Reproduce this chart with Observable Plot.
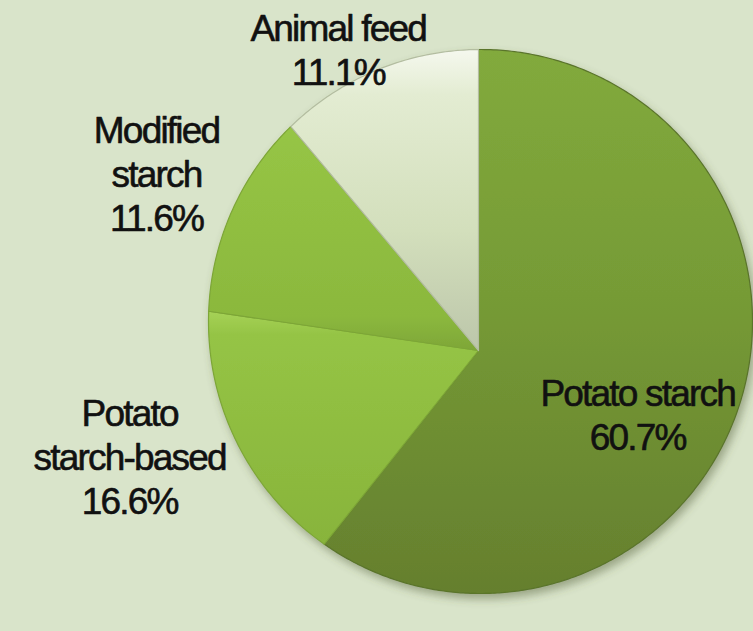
<!DOCTYPE html>
<html><head><meta charset="utf-8">
<script src="https://cdn.jsdelivr.net/npm/d3@7"></script>
<script src="https://cdn.jsdelivr.net/npm/@observablehq/plot@0.6"></script>
<style>
html,body{margin:0;padding:0;background:#d9e4ca;}
#chart svg text{letter-spacing:-1.8px;}
</style></head><body><div id="chart"></div>
<script>
// ---- data ----
const categories = ["Potato starch", "Potato starch-based", "Modified starch", "Animal feed"];
const shares = [60.7, 16.6, 11.6, 11.1];
const labelNames = ["Potato starch", "Potato\nstarch-based", "Modified\nstarch", "Animal feed"];

// ---- layout ----
const W = 753, H = 631, R = 272, CX = 480, CY = 321;
const xDomain = [-CX / R, (W - CX) / R], yDomain = [-(H - CY) / R, CY / R];
const apex = [-2 / R, -29 / R]; // perspective: slice apex sits a little below the rim centre

const arcs = d3.pie().sort(null).value(d => d)(shares);
function rayPoint(theta) {
  const dx = Math.sin(theta), dy = Math.cos(theta);
  const b = apex[0] * dx + apex[1] * dy;
  const c = apex[0] ** 2 + apex[1] ** 2 - 1;
  const s = -b + Math.sqrt(b * b - c);
  return [apex[0] + s * dx, apex[1] + s * dy];
}
const slicePts = [];
arcs.forEach((a, i) => {
  const n = Math.max(2, Math.ceil((a.endAngle - a.startAngle) / 0.01));
  slicePts.push({slice: i, x: apex[0], y: apex[1]});
  for (let k = 0; k <= n; k++) {
    const t = a.startAngle + (a.endAngle - a.startAngle) * k / n;
    const [x, y] = rayPoint(t);
    slicePts.push({slice: i, x, y});
  }
  slicePts.push({slice: i, x: apex[0], y: apex[1]});
});

const FS = 37, LH = 44 / 37, LS = 1.8;
const ctx = document.createElement("canvas").getContext("2d");
ctx.font = `${FS}px "Liberation Sans", Arial, sans-serif`;
function blockSize(text) {
  const lines = text.split("\n");
  const w = d3.max(lines, l => ctx.measureText(l).width - l.length * LS);
  const h = (lines.length - 1) * FS * LH + FS;
  return [w, h];
}
const labels = arcs.map((a, i) => {
  const text = `${labelNames[i]}\n${shares[i].toFixed(1)}%`;
  const mid = (a.startAngle + a.endAngle) / 2;
  let x, y;
  if (shares[i] > 50) {
    x = apex[0] + 0.62 * Math.sin(mid);
    y = apex[1] + 0.62 * Math.cos(mid) - 0.03;
  } else {
    const q = rayPoint(mid);
    const [w, h] = blockSize(text);
    x = q[0] * 1.08 + Math.sin(mid) * w / 2 / R;
    y = q[1] * 1.08 + Math.max(0, Math.cos(mid)) * h / 2 / R;
    y = Math.min(y, yDomain[1] - (h / 2 + 8) / R);
  }
  return {text, x, y};
});

const strokes = ["#5a742b", "#7da637", "#7da637", "#b3bda0"];

const plot = Plot.plot({
  width: W, height: H, margin: 0,
  x: {domain: xDomain, axis: null},
  y: {domain: yDomain, axis: null},
  color: {type: "identity"},
  style: {background: "#d9e4ca", fontFamily: '"Liberation Sans", Arial, sans-serif'},
  marks: [
    Plot.line(slicePts, {x: "x", y: "y", z: "slice", fill: d => `url(#g${d.slice})`, stroke: d => strokes[d.slice], strokeWidth: 1.2, curve: "linear"}),
    Plot.text(labels, {x: "x", y: "y", text: "text", fontSize: FS, lineHeight: LH, fill: "#111", stroke: "#111", strokeWidth: 0.6, textAnchor: "middle", lineAnchor: "middle"})
  ]
});

const svg = d3.select(plot);
const defs = svg.insert("defs", ":first-child");
const grads = [
  [[0, "#82aa3c"], [0.45, "#769b36"], [1, "#657f2e"]],
  [[0, "#a6d257"], [0.1, "#95c445"], [1, "#88b43b"]],
  [[0, "#96c545"], [0.85, "#8bb83d"], [1, "#7ea638"]],
  [[0, "#f5f8ee"], [0.15, "#e3ecd2"], [0.6, "#d3dfbc"], [1, "#bcc6aa"]]
];
grads.forEach((stops, i) => {
  const g = defs.append("linearGradient").attr("id", `g${i}`).attr("x1", 0).attr("y1", 0).attr("x2", 0).attr("y2", 1);
  stops.forEach(([o, c]) => g.append("stop").attr("offset", o).attr("stop-color", c));
});
defs.append("filter").attr("id", "shadow").attr("x", "-10%").attr("y", "-10%").attr("width", "130%").attr("height", "130%")
  .append("feDropShadow").attr("dx", 3).attr("dy", 5).attr("stdDeviation", 4).attr("flood-color", "#4d5a33").attr("flood-opacity", 0.45);
svg.select('g[aria-label="line"]').attr("filter", "url(#shadow)");

document.getElementById("chart").appendChild(plot);
</script></body></html>
